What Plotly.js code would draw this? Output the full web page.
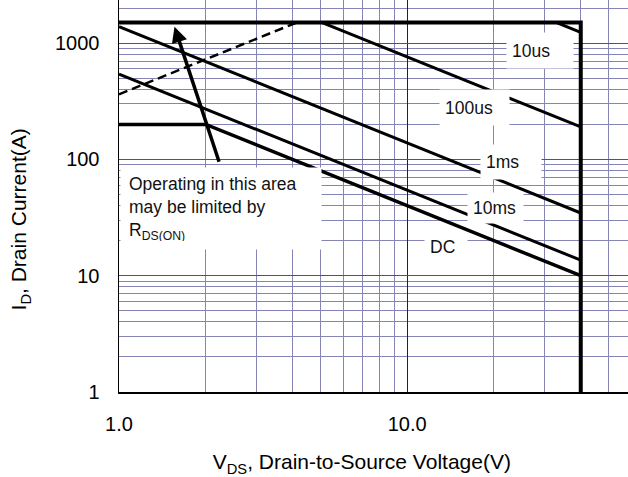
<!DOCTYPE html>
<html><head><meta charset="utf-8">
<script src="https://cdn.plot.ly/plotly-3.0.1.min.js"></script>
<style>html,body{margin:0;padding:0;background:#fff;} #chart{width:628px;height:477px;}</style>
</head><body><div id="chart"></div>
<script>
// ---- Data (V in volts, I in amps) ----
const limitV = [1, 40, 40];
const limitI = [1500, 1500, 0.5];
const us10V = [33, 40];
const us10I = [1500, 1238];
const us100V = [5.07, 40];
const us100I = [1500, 190];
const ms1V = [1, 40];
const ms1I = [1385, 34.6];
const ms10V = [1, 40];
const ms10I = [542, 13.6];
const dcV = [1, 2, 40];
const dcI = [200, 200, 10];
const rdsV = [1, 4.13];
const rdsI = [363, 1500];

const xTickVals = [1, 10];
const xTickText = ['1.0', '10.0'];
const yTickVals = [1, 10, 100, 1000];
const yTickText = ['1', '10', '100', '1000'];

const curveLabels = ['10us', '100us', '1ms', '10ms', 'DC'];
const labelV = [28.8, 17.05, 22.96, 20.2, 13.6];
const labelI = [864, 279, 95.9, 38.0, 17.8];

const noteText = 'Operating in this area<br>may be limited by<br>R<sub>DS(ON)</sub>';
const xTitle = 'V<sub>DS</sub>, Drain-to-Source Voltage(V)';
const yTitle = 'I<sub>D</sub>, Drain Current(A)';

// ---- styles ----
const labelBoxW = [66, 69, 60, 55, 42];
const labelBoxH = [35, 35, 34, 30, 28];
const FONT = 'Liberation Sans, Arial, sans-serif';
const pad = n => '\u00a0'.repeat(n) + '\u200b';

function minorVals(lo, hi) {
  const v = [];
  for (let e = lo; e <= hi; e++) for (let d = 2; d <= 9; d++) v.push(d * Math.pow(10, e));
  return v;
}

const line = (x, y, w, dash) => ({
  x: x, y: y, type: 'scatter', mode: 'lines', hoverinfo: 'skip', showlegend: false,
  line: {color: '#000', width: w, dash: dash || 'solid'}
});

const traces = [
  line(rdsV, rdsI, 2.5, '9px,5px'),
  line(dcV, dcI, 3.5),
  line(ms10V, ms10I, 3),
  line(ms1V, ms1I, 3),
  line(us100V, us100I, 3),
  line(us10V, us10I, 3),
  line(limitV, limitI, 4)
];

const annotations = curveLabels.map((t, i) => ({
  text: t, x: Math.log10(labelV[i]), y: Math.log10(labelI[i]), xref: 'x', yref: 'y',
  showarrow: false, bgcolor: '#fff', borderpad: 5,
  width: labelBoxW[i] - 10, height: labelBoxH[i] - 10, align: 'left', valign: 'middle',
  font: {family: FONT, size: 17.5, color: '#111'}
}));

annotations.push({
  text: noteText, x: Math.log10(1.008), y: Math.log10(86), xref: 'x', yref: 'y',
  xanchor: 'left', yanchor: 'top', showarrow: false, bgcolor: '#fff', borderpad: 8,
  width: 184, height: 65, align: 'left', valign: 'middle',
  font: {family: FONT, size: 17.5, color: '#111'}
});
annotations.push({
  text: '', x: Math.log10(1.558), y: Math.log10(1384), xref: 'x', yref: 'y',
  ax: Math.log10(2.233), ay: Math.log10(92.6), axref: 'x', ayref: 'y',
  showarrow: true, arrowhead: 2, arrowsize: 0.9, arrowwidth: 3.5, arrowcolor: '#000', standoff: 0
});

const layout = {
  width: 628, height: 477,
  margin: {l: 119, r: 0, t: 0, b: 85, pad: 0},
  paper_bgcolor: '#fff', plot_bgcolor: '#fff',
  showlegend: false,
  xaxis: {
    type: 'log', range: [0, 1.766], autorange: false,
    tickmode: 'array', tickvals: xTickVals, ticktext: xTickText,
    ticks: '', ticklabelstandoff: 13,
    tickfont: {family: FONT, size: 20, color: '#000'},
    showgrid: true, gridcolor: '#222', gridwidth: 1,
    showline: true, linecolor: '#000', linewidth: 1.5,
    minor: {tickmode: 'array', tickvals: minorVals(0, 1), showgrid: true, gridcolor: '#8484b6', gridwidth: 1, ticks: ''},
    title: {text: xTitle + pad(4), font: {family: FONT, size: 21, color: '#000'}, standoff: 21},
    zeroline: false, fixedrange: true
  },
  yaxis: {
    type: 'log', range: [0, 3.3706], autorange: false,
    tickmode: 'array', tickvals: yTickVals, ticktext: yTickText,
    ticks: '', ticklabelstandoff: 14,
    tickfont: {family: FONT, size: 20, color: '#000'},
    showgrid: true, gridcolor: '#555', gridwidth: 1,
    showline: true, linecolor: '#000', linewidth: 1.5,
    minor: {tickmode: 'array', tickvals: minorVals(0, 3), showgrid: true, gridcolor: '#8484b6', gridwidth: 1, ticks: ''},
    title: {text: yTitle + pad(8), font: {family: FONT, size: 21, color: '#000'}, standoff: 22},
    zeroline: false, fixedrange: true
  },
  annotations: annotations
};

Plotly.newPlot('chart', traces, layout, {staticPlot: true, displayModeBar: false});
</script>
</body></html>
